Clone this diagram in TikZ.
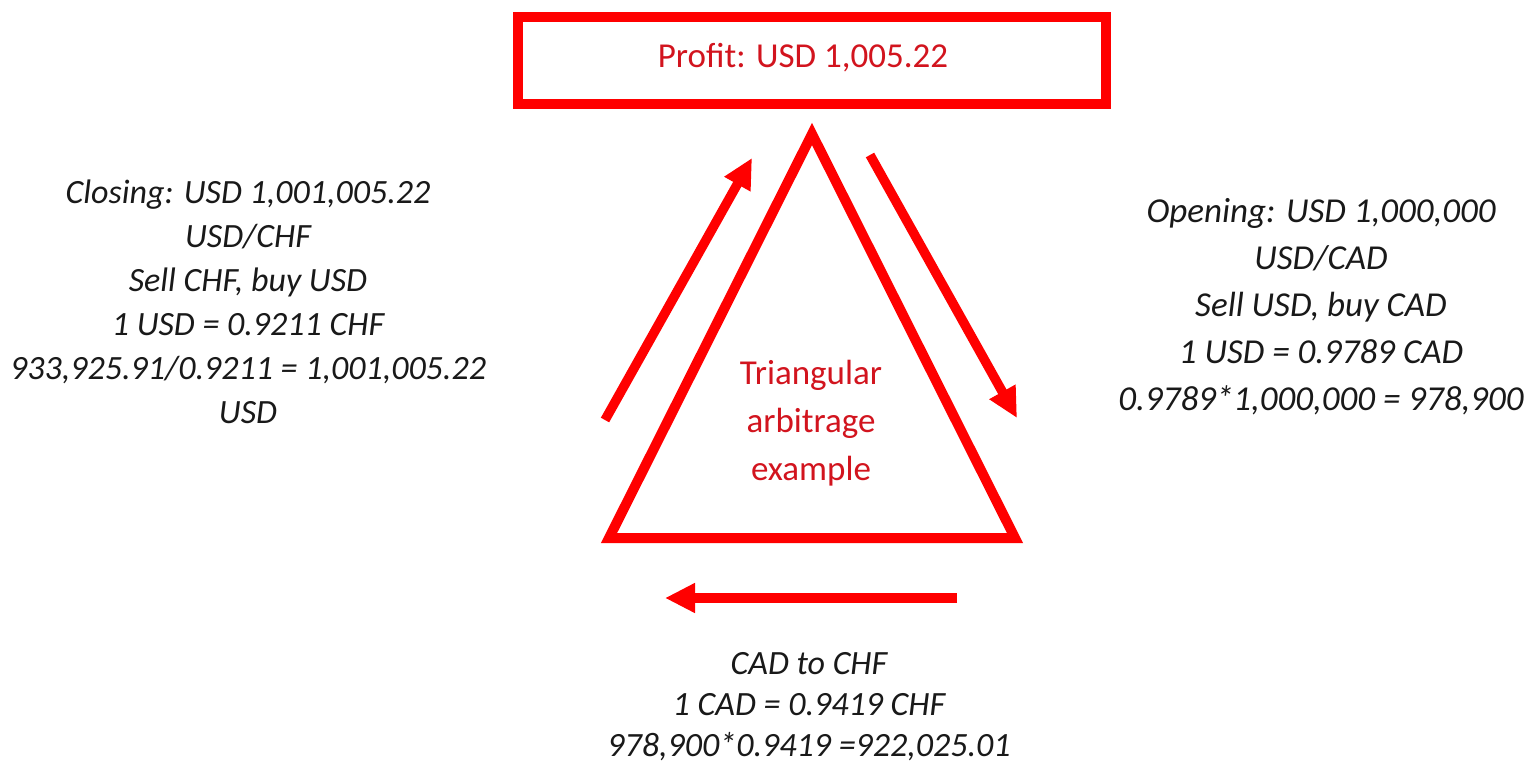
\documentclass[tikz,border=0pt]{standalone}
\usepackage{fontspec}
\setmainfont{Carlito}
\usetikzlibrary{arrows.meta}
\definecolor{arrred}{RGB}{255,0,0}
\definecolor{txtred}{RGB}{210,20,30}
\definecolor{txtblk}{RGB}{25,25,25}
\tikzset{
  redline/.style={draw=arrred, line width=10pt, line join=miter},
  redarrow/.style={draw=arrred, line width=9.5pt, line cap=butt,
    -{Triangle[length=30pt,width=28pt]}},
  blacktext/.style={text=txtblk, align=center, inner sep=0pt,
    font=\fontsize{34}{44}\selectfont\itshape},
  redtext/.style={text=txtred, align=center, inner sep=0pt,
    font=\fontsize{35}{48}\selectfont}
}
\begin{document}
\begin{tikzpicture}[x=1pt,y=-1pt]
\useasboundingbox[fill=white] (0,0) rectangle (1534,769);

% profit box
\draw[redline] (518,17) rectangle (1106,104);
\node[redtext] (profit) at (803,58) {Profit: USD 1,005.22};

% triangle
\coordinate (tl) at (609,538);
\coordinate (ta) at (812,134);
\coordinate (tr) at (1015,538);
\draw[redline] (tl) -- (ta) -- (tr) -- cycle;
\node[redtext] (tri) at (811,423) {Triangular\\arbitrage\\example};

% arrows
\coordinate (la0) at (605,420);
\coordinate (la1) at (752,158);
\coordinate (ra0) at (870,155);
\coordinate (ra1) at (1017,418);
\coordinate (ba0) at (957,598);
\coordinate (ba1) at (665,598);
\draw[redarrow] (la0) -- (la1);
\draw[redarrow] (ra0) -- (ra1);
\draw[redarrow] (ba0) -- (ba1);

% texts
\node[blacktext] (closing) at (248,302)
  {Closing: USD 1,001,005.22\\USD/CHF\\Sell CHF, buy USD\\1 USD = 0.9211 CHF\\933,925.91/0.9211 = 1,001,005.22\\USD};
\node[blacktext, font=\fontsize{35}{47}\selectfont\itshape] (opening) at (1321,307)
  {Opening: USD 1,000,000\\USD/CAD\\Sell USD, buy CAD\\1 USD = 0.9789 CAD\\0.9789*1,000,000 = 978,900};
\node[blacktext, font=\fontsize{34}{41}\selectfont\itshape] (cadchf) at (809,707)
  {CAD to CHF\\1 CAD = 0.9419 CHF\\978,900*0.9419 =922,025.01};
\end{tikzpicture}
\end{document}
